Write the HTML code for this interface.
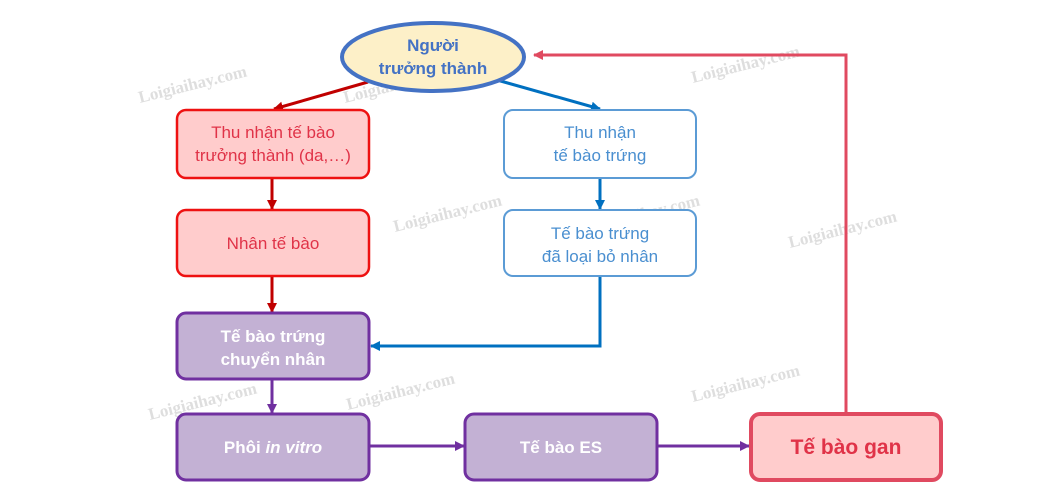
<!DOCTYPE html>
<html><head><meta charset="utf-8"><style>
html,body{margin:0;padding:0;background:#fff;width:1053px;height:496px;overflow:hidden}
svg{display:block;font-family:"Liberation Sans",Arial,sans-serif}
</style></head><body>
<svg width="1053" height="496" viewBox="0 0 1053 496">
<defs>
<marker id="mr" markerWidth="10" markerHeight="10" refX="9" refY="5" orient="auto" markerUnits="userSpaceOnUse"><path d="M0,0 L10,5 L0,10 z" fill="#c00000"/></marker>
<marker id="mb" markerWidth="10" markerHeight="10" refX="9" refY="5" orient="auto" markerUnits="userSpaceOnUse"><path d="M0,0 L10,5 L0,10 z" fill="#0070c0"/></marker>
<marker id="mp" markerWidth="10" markerHeight="10" refX="9" refY="5" orient="auto" markerUnits="userSpaceOnUse"><path d="M0,0 L10,5 L0,10 z" fill="#7030a0"/></marker>
<marker id="mk" markerWidth="10" markerHeight="10" refX="9" refY="5" orient="auto" markerUnits="userSpaceOnUse"><path d="M0,0 L10,5 L0,10 z" fill="#e04a60"/></marker>
</defs>
<g fill="#d0d0d0" font-size="17" font-weight="bold" font-family="Liberation Serif,serif" opacity="0.7">
<text transform="translate(140,103) rotate(-14)">Loigiaihay.com</text>
<text transform="translate(345,103) rotate(-14)">Loigiaihay.com</text>
<text transform="translate(693,83) rotate(-14)">Loigiaihay.com</text>
<text transform="translate(395,232) rotate(-14)">Loigiaihay.com</text>
<text transform="translate(593,232) rotate(-14)">Loigiaihay.com</text>
<text transform="translate(790,248) rotate(-14)">Loigiaihay.com</text>
<text transform="translate(150,420) rotate(-14)">Loigiaihay.com</text>
<text transform="translate(348,410) rotate(-14)">Loigiaihay.com</text>
<text transform="translate(693,402) rotate(-14)">Loigiaihay.com</text>
</g>
<line x1="368" y1="82" x2="274" y2="109" stroke="#c00000" stroke-width="3" marker-end="url(#mr)"/>
<line x1="497" y1="80" x2="600" y2="109" stroke="#0070c0" stroke-width="3" marker-end="url(#mb)"/>
<line x1="272" y1="178" x2="272" y2="209" stroke="#c00000" stroke-width="3" marker-end="url(#mr)"/>
<line x1="272" y1="276" x2="272" y2="312" stroke="#c00000" stroke-width="3" marker-end="url(#mr)"/>
<line x1="600" y1="178" x2="600" y2="209" stroke="#0070c0" stroke-width="3" marker-end="url(#mb)"/>
<polyline points="600,276 600,346 371,346" fill="none" stroke="#0070c0" stroke-width="3" marker-end="url(#mb)"/>
<line x1="272" y1="380" x2="272" y2="413" stroke="#7030a0" stroke-width="3" marker-end="url(#mp)"/>
<line x1="370" y1="446" x2="464" y2="446" stroke="#7030a0" stroke-width="3" marker-end="url(#mp)"/>
<line x1="658" y1="446" x2="749" y2="446" stroke="#7030a0" stroke-width="3" marker-end="url(#mp)"/>
<polyline points="846,413 846,55 534,55" fill="none" stroke="#e04a60" stroke-width="3" marker-end="url(#mk)"/>
<ellipse cx="433" cy="57" rx="91" ry="34" fill="#fdf0c8" stroke="#4472c4" stroke-width="4"/>
<g fill="#4472c4" font-size="17" font-weight="bold" text-anchor="middle">
<text x="433" y="51">Người</text><text x="433" y="74">trưởng thành</text></g>
<g fill="#ffcccc" stroke="#ee1111" stroke-width="2.5">
<rect x="177" y="110" width="192" height="68" rx="9"/>
<rect x="177" y="210" width="192" height="66" rx="9"/>
</g>
<g fill="#e03348" font-size="17" text-anchor="middle">
<text x="273" y="138">Thu nhận tế bào</text><text x="273" y="161">trưởng thành (da,…)</text>
<text x="273" y="249">Nhân tế bào</text></g>
<g fill="#fff" stroke="#5b9bd5" stroke-width="2">
<rect x="504" y="110" width="192" height="68" rx="9"/>
<rect x="504" y="210" width="192" height="66" rx="9"/>
</g>
<g fill="#4a8fd0" font-size="17" text-anchor="middle">
<text x="600" y="138">Thu nhận</text><text x="600" y="161">tế bào trứng</text>
<text x="600" y="239">Tế bào trứng</text><text x="600" y="262">đã loại bỏ nhân</text></g>
<g fill="#c3b1d4" stroke="#7030a0" stroke-width="3">
<rect x="177" y="313" width="192" height="66" rx="9"/>
<rect x="177" y="414" width="192" height="66" rx="9"/>
<rect x="465" y="414" width="192" height="66" rx="9"/>
</g>
<g fill="#fff" font-size="17" font-weight="bold" text-anchor="middle">
<text x="273" y="342">Tế bào trứng</text><text x="273" y="365">chuyển nhân</text>
<text x="273" y="453">Phôi <tspan font-style="italic">in vitro</tspan></text>
<text x="561" y="453">Tế bào ES</text></g>
<rect x="751" y="414" width="190" height="66" rx="9" fill="#ffcccc" stroke="#e04a60" stroke-width="4"/>
<text x="846" y="454" fill="#e03348" font-size="21" font-weight="bold" text-anchor="middle">Tế bào gan</text>
</svg>
</body></html>
